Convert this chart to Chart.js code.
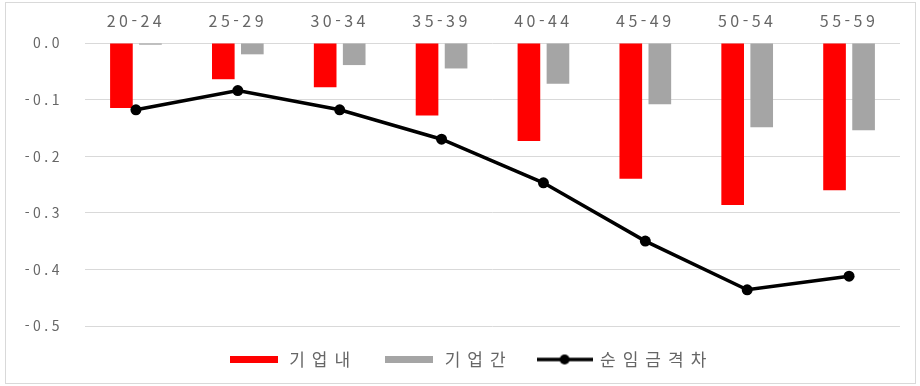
<!DOCTYPE html>
<html lang="ko">
<head>
<meta charset="utf-8">
<title>연령대별 임금격차 분해</title>
<script src="https://cdn.jsdelivr.net/npm/chart.js@4/dist/chart.umd.min.js"></script>
<style>
  html, body { margin: 0; padding: 0; background: #ffffff; }
  #wrap { position: relative; width: 920px; height: 386px; }
  #chart { position: absolute; left: 0; top: 0; }
  #frame {
    position: absolute; left: 5px; top: 2px; width: 909px; height: 380px;
    border: 1px solid #d9d9d9; pointer-events: none;
  }
</style>
</head>
<body>
<div id="wrap">
  <canvas id="chart" width="920" height="386"></canvas>
  <div id="frame"></div>
</div>
<script>
// Age groups and the decomposition of the wage gap
const ageGroups = ['20-24', '25-29', '30-34', '35-39', '40-44', '45-49', '50-54', '55-59'];
const withinFirm = [-0.115, -0.064, -0.078, -0.128, -0.173, -0.240, -0.286, -0.260];   // 기업내
const betweenFirm = [-0.003, -0.020, -0.039, -0.045, -0.072, -0.108, -0.149, -0.154];  // 기업간
const netGap = [-0.118, -0.084, -0.118, -0.170, -0.247, -0.350, -0.436, -0.412];       // 순임금격차
const yTicks = [0, -0.1, -0.2, -0.3, -0.4, -0.5];

const RED = '#ff0000';
const GREY = '#a5a5a5';
const BLACK = '#000000';
const TEXT = '#666666';
const FONT = "'Noto Sans CJK KR', 'Noto Sans', sans-serif";

// Legend swatches: flat bars and a line with a dot
function swatchBar(color) {
  const c = document.createElement('canvas');
  c.width = 48; c.height = 7;
  const g = c.getContext('2d');
  g.fillStyle = color;
  g.fillRect(0, 0, 48, 7);
  return c;
}
function swatchLine(color) {
  const c = document.createElement('canvas');
  c.width = 56; c.height = 12;
  const g = c.getContext('2d');
  g.strokeStyle = color;
  g.lineWidth = 3.5;
  g.beginPath(); g.moveTo(0, 6); g.lineTo(56, 6); g.stroke();
  g.fillStyle = color;
  g.beginPath(); g.arc(28, 6, 5, 0, Math.PI * 2); g.fill();
  return c;
}

// Wider glyph spacing for tick labels and legend text; legend centred on x = 470
const spacing = {
  id: 'glyphSpacing',
  beforeLayout(chart) { chart.ctx.letterSpacing = '7px'; },
  afterLayout(chart) {
    const lg = chart.legend;
    if (!lg) return;
    lg.left = 40;
    if (!lg._spacedDraw) {
      const draw = lg.draw;
      lg.draw = function (...args) {
        const c = this.ctx;
        const prev = c.letterSpacing;
        c.letterSpacing = '7px';
        draw.apply(this, args);
        c.letterSpacing = prev;
      };
      lg._spacedDraw = true;
    }
  },
  beforeDraw(chart) { chart.ctx.letterSpacing = '3.5px'; }
};

const legendItems = [
  { text: '기업내', img: swatchBar(RED), ds: 0 },
  { text: '기업간', img: swatchBar(GREY), ds: 1 },
  { text: '순임금격차', img: swatchLine(BLACK), ds: 2 }
];

new Chart(document.getElementById('chart'), {
  data: {
    labels: ageGroups,
    datasets: [
      { type: 'bar', label: '기업내', data: withinFirm, backgroundColor: RED,
        categoryPercentage: 0.57, barPercentage: 0.78, order: 1 },
      { type: 'bar', label: '기업간', data: betweenFirm, backgroundColor: GREY,
        categoryPercentage: 0.57, barPercentage: 0.78, order: 1 },
      { type: 'line', label: '순임금격차', data: netGap, borderColor: BLACK, backgroundColor: BLACK,
        borderWidth: 3.5, pointRadius: 5.5, pointHoverRadius: 5.5, pointBackgroundColor: BLACK,
        pointBorderWidth: 0, tension: 0, fill: false, order: -1 }
    ]
  },
  options: {
    responsive: false,
    animation: false,
    events: [],
    layout: { padding: { left: 0, right: 20, top: 0, bottom: 8 } },
    scales: {
      x: {
        position: 'top',
        grid: { display: false, drawTicks: false },
        border: { display: false },
        ticks: { color: TEXT, font: { family: FONT, size: 16 }, padding: 12,
                 maxRotation: 0, minRotation: 0, autoSkip: false },
        afterFit(s) { s.height = 43; }
      },
      y: {
        min: -0.5, max: 0,
        afterBuildTicks(s) { s.ticks = yTicks.map(v => ({ value: v })); },
        grid: { color: '#d9d9d9', lineWidth: 1, drawTicks: false },
        border: { display: false },
        ticks: { color: TEXT, font: { family: FONT, size: 14 }, padding: 22,
                 callback: v => Number(v).toFixed(1) },
        afterFit(s) { s.width = 85; }
      }
    },
    plugins: {
      tooltip: { enabled: false },
      legend: {
        position: 'bottom',
        labels: {
          usePointStyle: true,
          pointStyleWidth: 54,
          padding: 25,
          color: TEXT,
          font: { family: FONT, size: 17 },
          generateLabels: () => legendItems.map(it => ({
            text: it.text, pointStyle: it.img, fillStyle: 'transparent',
            strokeStyle: 'transparent', lineWidth: 0, hidden: false,
            datasetIndex: it.ds, fontColor: TEXT
          }))
        }
      }
    }
  },
  plugins: [spacing]
});
</script>
</body>
</html>
